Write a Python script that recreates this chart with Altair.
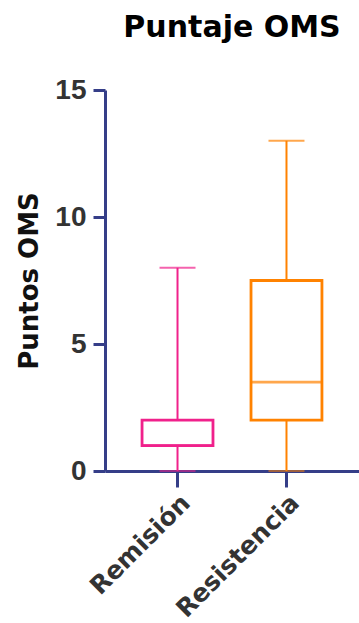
import altair as alt
import pandas as pd

categories = ["Remisión", "Resistencia"]
mins = [0, 0]
q1s = [1, 2]
medians = [1, 3.5]
q3s = [2, 7.5]
maxs = [8, 13]
colors = ["#F0218B", "#FF8200"]

df = pd.DataFrame({
    "grupo": categories,
    "min": mins,
    "q1": q1s,
    "median": medians,
    "q3": q3s,
    "max": maxs,
})

NAVY = "#353E88"
FONT = "DejaVu Sans"
NUMFONT = "Liberation Sans"

x = alt.X("grupo:N", sort=categories,
          scale=alt.Scale(paddingInner=0.349, paddingOuter=0.34),
          axis=alt.Axis(title=None, labelAngle=-45, labelFontSize=25,
                        labelFont=FONT, labelFontWeight="bold", labelColor="#333333",
                        tickSize=16, tickWidth=3, tickColor=NAVY,
                        domainColor=NAVY, domainWidth=3, labelPadding=3))
yscale = alt.Scale(domain=[0, 15], nice=False)
yaxis = alt.Axis(values=[0, 5, 10, 15], title="Puntos OMS", titleFontSize=26,
                 titleFont=FONT, titleFontWeight="bold", titleColor="#111111",
                 labelFontSize=28, labelFont=NUMFONT, labelFontWeight="bold",
                 labelColor="#333333", tickSize=12, tickWidth=3, tickColor=NAVY,
                 domainColor=NAVY, domainWidth=3, grid=False, labelPadding=7,
                 titlePadding=12)
color = alt.Color("grupo:N", scale=alt.Scale(domain=categories, range=colors), legend=None)
stroke = alt.Stroke("grupo:N", scale=alt.Scale(domain=categories, range=colors), legend=None)

base = alt.Chart(df)

box = base.mark_bar(fill="white", strokeWidth=2.8).encode(
    x=x, y=alt.Y("q1:Q", scale=yscale, axis=yaxis), y2="q3:Q", stroke=stroke)
wlow = base.mark_rule(strokeWidth=2).encode(x=x, y=alt.Y("min:Q", scale=yscale), y2="q1:Q", color=color)
whigh = base.mark_rule(strokeWidth=2).encode(x=x, y=alt.Y("q3:Q", scale=yscale), y2="max:Q", color=color)
med = base.mark_tick(size=71, thickness=2.8).encode(x=x, y=alt.Y("median:Q", scale=yscale), color=color)
capt = base.mark_tick(size=36, thickness=2).encode(x=x, y=alt.Y("max:Q", scale=yscale), color=color)
capb = base.mark_tick(size=36, thickness=1.5).encode(x=x, y=alt.Y("min:Q", scale=yscale), color=color)

chart = alt.layer(box, wlow, whigh, med, capt, capb).properties(
    width=254, height=381,
    title=alt.TitleParams("Puntaje OMS", fontSize=30, font=FONT, fontWeight="bold",
                          color="#000000", anchor="middle", offset=33),
    autosize=alt.AutoSizeParams(type="none"),
    padding={"left": 105, "top": 90, "right": 0, "bottom": 152},
).configure_view(stroke=None)

chart.save("out.html", embed_options={"renderer": "svg", "actions": False})
